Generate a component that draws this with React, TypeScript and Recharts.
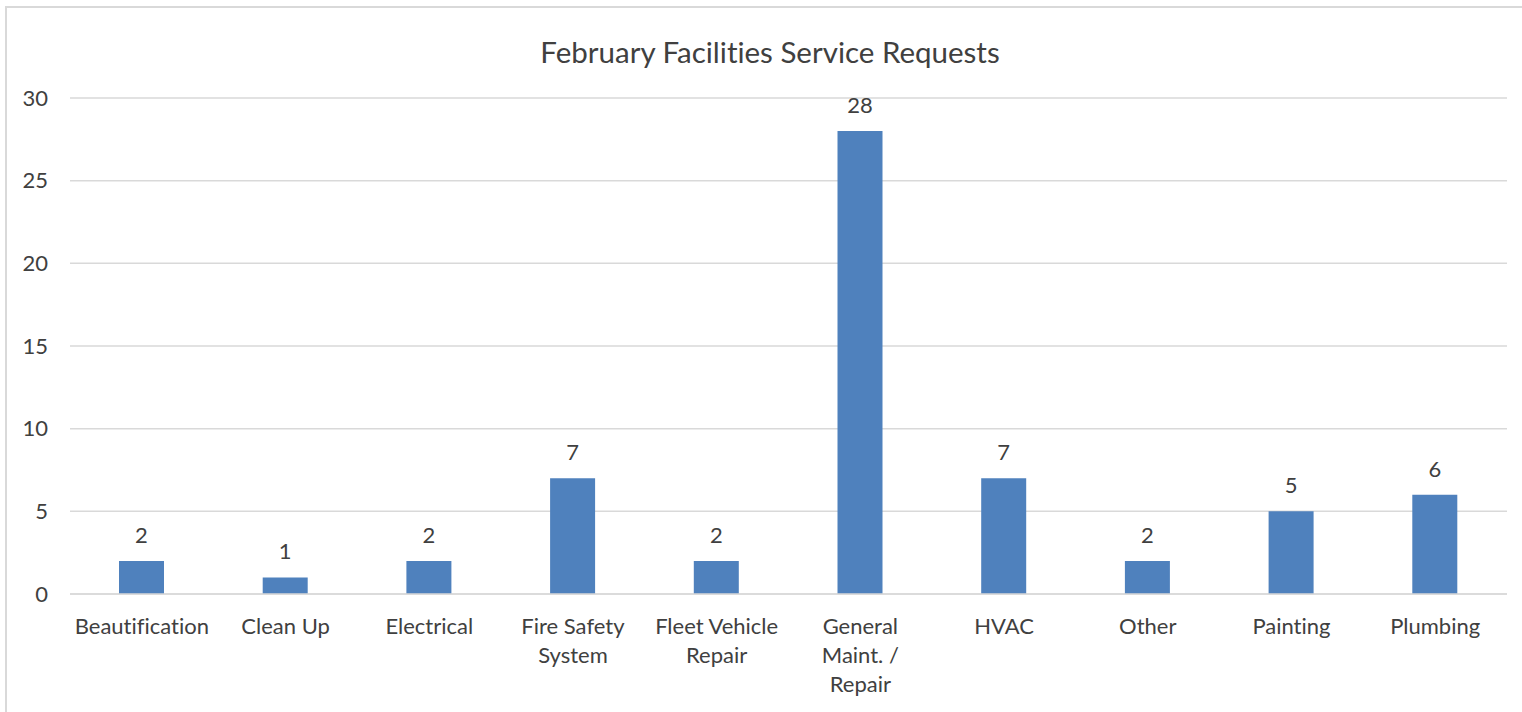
import React from 'react';
import { BarChart, Bar, XAxis, YAxis, CartesianGrid, LabelList } from 'recharts';

const categories = [
  'Beautification',
  'Clean Up',
  'Electrical',
  'Fire Safety System',
  'Fleet Vehicle Repair',
  'General Maint. / Repair',
  'HVAC',
  'Other',
  'Painting',
  'Plumbing',
];
const requestCounts = [2, 1, 2, 7, 2, 28, 7, 2, 5, 6];
// category labels as they wrap under the axis
const tickLines: string[][] = [
  ['Beautification'],
  ['Clean Up'],
  ['Electrical'],
  ['Fire Safety', 'System'],
  ['Fleet Vehicle', 'Repair'],
  ['General', 'Maint. /', 'Repair'],
  ['HVAC'],
  ['Other'],
  ['Painting'],
  ['Plumbing'],
];
const yTicks = [0, 5, 10, 15, 20, 25, 30];

const chartTitle = 'February Facilities Service Requests';

const FONT = 'Lato, "Open Sans", sans-serif';
const TEXT = '#404040';
const GRID = '#D9D9D9';
const BAR = '#4F81BD';
const noLigatures = { fontVariantLigatures: 'none' } as React.CSSProperties;

const data = categories.map((name, i) => ({ name, requests: requestCounts[i] }));

const CategoryTick = (props: any) => {
  const { x, y, payload } = props;
  const lines = tickLines[payload.index] ?? [payload.value];
  return (
    <text x={x} y={y} textAnchor="middle" fill={TEXT} fontSize={22} fontFamily={FONT} style={noLigatures}>
      {lines.map((line, i) => (
        <tspan key={i} x={x} dy={i === 0 ? 40 : 29}>
          {line}
        </tspan>
      ))}
    </text>
  );
};

const App: React.FC = () => {
  return (
    <div style={{ position: 'absolute', left: 0, top: 0, width: 1522, height: 712, overflow: 'hidden', background: '#fff' }}>
      {/* chart frame, runs off the right and bottom edge like the source */}
      <div
        style={{
          position: 'absolute',
          left: 5,
          top: 6,
          width: 1600,
          height: 800,
          border: `2px solid ${GRID}`,
          boxSizing: 'border-box',
        }}
      />
      <div style={{ position: 'absolute', left: 0, top: 0 }}>
        <BarChart
          width={1522}
          height={712}
          data={data}
          margin={{ top: 98, right: 15, left: 0, bottom: 0 }}
        >
          <CartesianGrid vertical={false} stroke={GRID} strokeWidth={1.5} />
          <XAxis
            dataKey="name"
            interval={0}
            height={118}
            axisLine={{ stroke: GRID, strokeWidth: 1.5 }}
            tickLine={false}
            tickSize={0}
            tickMargin={0}
            tick={<CategoryTick />}
          />
          <YAxis
            width={70}
            domain={[0, 30]}
            ticks={yTicks}
            axisLine={false}
            tickLine={false}
            tickSize={0}
            tickMargin={22}
            tick={{ fill: TEXT, fontSize: 22, fontFamily: FONT }}
          />
          <Bar dataKey="requests" fill={BAR} barSize={45} isAnimationActive={false}>
            <LabelList
              dataKey="requests"
              position="top"
              offset={18}
              fill={TEXT}
              fontSize={22}
              fontFamily={FONT}
            />
          </Bar>
        </BarChart>
      </div>
      <div
        style={{
          position: 'absolute',
          left: 0,
          top: 33,
          width: 1540,
          textAlign: 'center',
          fontFamily: FONT,
          fontSize: 29.5,
          lineHeight: '38px',
          color: TEXT,
          ...noLigatures,
        }}
      >
        {chartTitle}
      </div>
    </div>
  );
};

export default App;
